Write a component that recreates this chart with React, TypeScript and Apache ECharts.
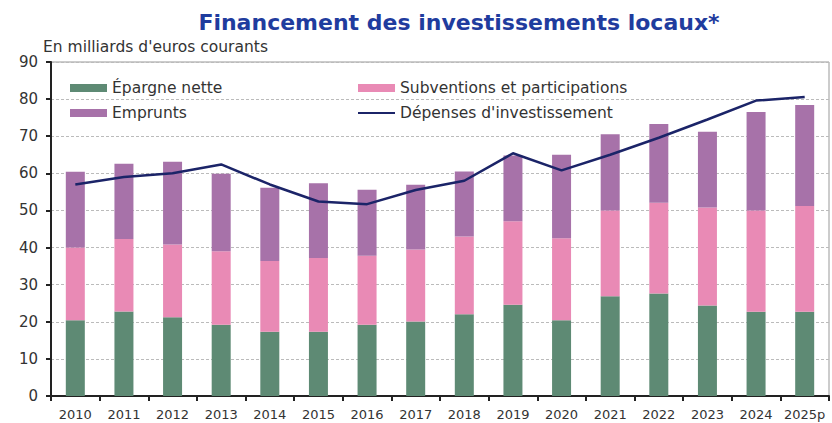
import React, { useEffect, useRef } from "react";
import * as echarts from "echarts";

const years = ["2010","2011","2012","2013","2014","2015","2016","2017","2018","2019","2020","2021","2022","2023","2024","2025p"];
const epargne = [20.4, 22.8, 21.2, 19.2, 17.3, 17.3, 19.2, 20.1, 22.0, 24.6, 20.4, 26.9, 27.6, 24.4, 22.7, 22.7];
const subventions = [19.6, 19.5, 19.6, 19.8, 19.1, 19.9, 18.6, 19.4, 21.0, 22.5, 22.1, 23.1, 24.5, 26.4, 27.3, 28.5];
const emprunts = [20.4, 20.3, 22.3, 20.9, 19.7, 20.1, 17.8, 17.4, 17.5, 17.7, 22.5, 20.5, 21.2, 20.4, 26.5, 27.2];
const depenses = [57.0, 59.0, 60.0, 62.4, 57.0, 52.4, 51.7, 55.5, 58.0, 65.4, 60.8, 65.0, 69.6, 74.5, 79.6, 80.6];

const FONT = "'DejaVu Sans', 'Open Sans', sans-serif";

export default function App() {
  const ref = useRef<HTMLDivElement>(null);
  useEffect(() => {
    if (!ref.current) return;
    const chart = echarts.init(ref.current, null, { renderer: "svg" });
    const legendText = { fontFamily: FONT, fontSize: 15.5, color: "#333" };
    chart.setOption({
      animation: false,
      backgroundColor: "#fff",
      title: [
        {
          text: "Financement des investissements locaux*",
          left: 459,
          textAlign: "center",
          top: 11,
          padding: 0,
          textStyle: { fontFamily: FONT, fontSize: 22, fontWeight: "bold", color: "#1f3c9e" },
        },
        {
          text: "En milliards d'euros courants",
          left: 43,
          top: 39,
          padding: 0,
          textStyle: { fontFamily: FONT, fontSize: 15.5, fontWeight: "normal", color: "#333" },
        },
      ],
      legend: [
        {
          left: 70,
          top: 80,
          padding: 0,
          orient: "vertical",
          itemWidth: 37,
          itemHeight: 8,
          itemGap: 9,
          textStyle: legendText,
          data: [
            { name: "Épargne nette", icon: "rect" },
            { name: "Emprunts", icon: "rect" },
          ],
        },
        {
          left: 357,
          top: 80,
          padding: 0,
          orient: "vertical",
          itemWidth: 37,
          itemHeight: 8,
          itemGap: 9,
          textStyle: legendText,
          data: [
            { name: "Subventions et participations", icon: "rect" },
            { name: "Dépenses d'investissement", itemStyle: { color: "rgba(0,0,0,0)", opacity: 0 } },
          ],
        },
      ],
      grid: {
        left: 51,
        right: 3,
        top: 62,
        bottom: 27,
        show: true,
        borderColor: "#999",
        borderWidth: 1,
      },
      xAxis: {
        type: "category",
        data: years,
        axisLine: { show: true, lineStyle: { color: "#222", width: 2 } },
        axisTick: { show: true, length: 5, lineStyle: { color: "#222", width: 2 } },
        axisLabel: { fontFamily: FONT, fontSize: 13, color: "#333", margin: 12, interval: 0 },
      },
      yAxis: {
        type: "value",
        min: 0,
        max: 90,
        interval: 10,
        axisLine: { show: true, lineStyle: { color: "#222", width: 2 } },
        axisTick: { show: true, length: 5, lineStyle: { color: "#222", width: 2 } },
        axisLabel: { fontFamily: FONT, fontSize: 15, color: "#333", margin: 13 },
        splitLine: { show: true, lineStyle: { color: "#bbb", type: [3, 2], width: 1 } },
      },
      series: [
        {
          name: "Épargne nette",
          type: "bar",
          stack: "f",
          data: epargne,
          barWidth: 19,
          itemStyle: { color: "#5e8a74" },
        },
        {
          name: "Subventions et participations",
          type: "bar",
          stack: "f",
          data: subventions,
          barWidth: 19,
          itemStyle: { color: "#e98ab5" },
        },
        {
          name: "Emprunts",
          type: "bar",
          stack: "f",
          data: emprunts,
          barWidth: 19,
          itemStyle: { color: "#a772a9" },
        },
        {
          name: "Dépenses d'investissement",
          type: "line",
          data: depenses,
          symbol: "none",
          lineStyle: { color: "#1b2468", width: 2.5 },
          itemStyle: { color: "#1b2468" },
          z: 5,
        },
      ],
    });
    return () => chart.dispose();
  }, []);
  return (
    <div
      ref={ref}
      style={{ position: "fixed", left: 0, top: 0, width: 832, height: 423 }}
    />
  );
}
